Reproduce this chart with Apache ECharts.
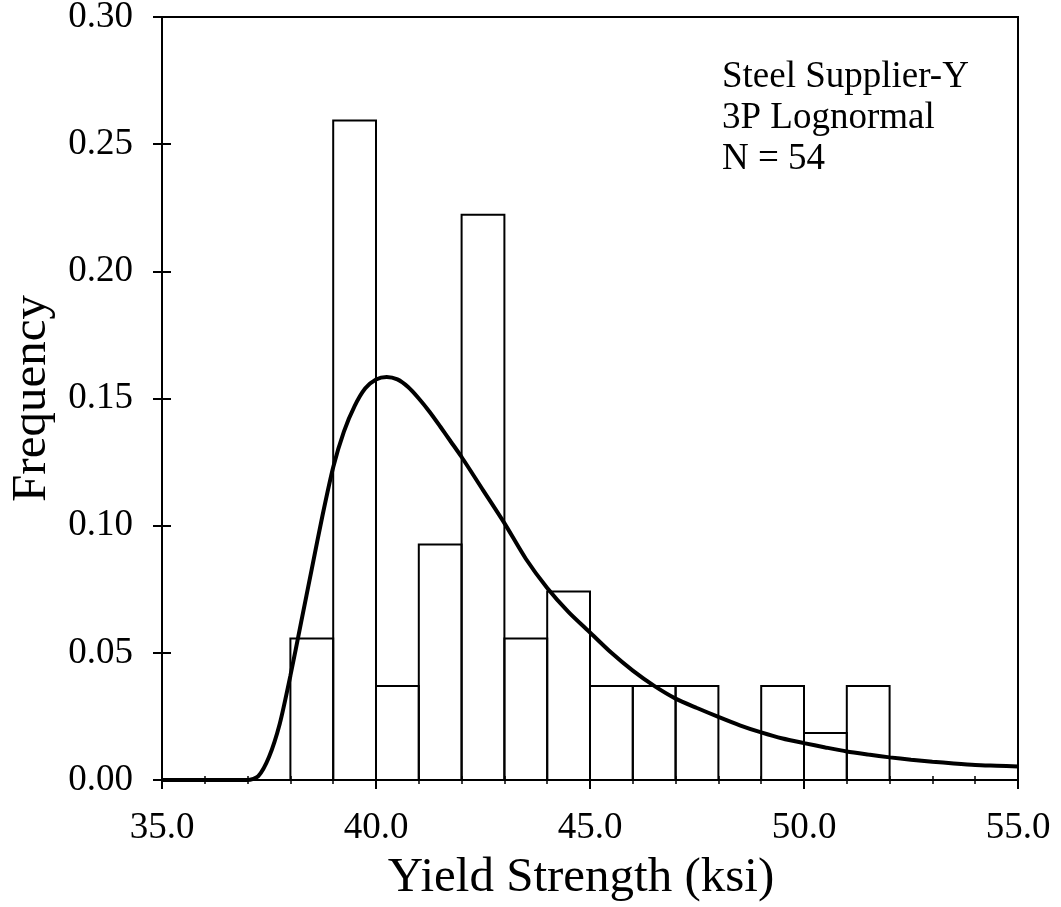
<!DOCTYPE html>
<html>
<head>
<meta charset="utf-8">
<script src="https://cdn.jsdelivr.net/npm/echarts@6/dist/echarts.min.js"></script>
<style>
html,body{margin:0;padding:0;background:#fff;}
#chart{width:1061px;height:907px;}
</style>
</head>
<body>
<div id="chart"></div>
<script>
// Histogram bins (ksi) and relative frequencies (counts / 54)
const binStart = [38, 39, 40, 41, 42, 43, 44, 45, 46, 47, 48, 49, 50, 51];
const binEnd   = [39, 40, 41, 42, 43, 44, 45, 46, 47, 48, 49, 50, 51, 52];
const binFreq  = [0.0556, 0.2593, 0.0370, 0.0926, 0.2222, 0.0556, 0.0741, 0.0370, 0.0370, 0.0370, 0, 0.0370, 0.0185, 0.0370];

// Fitted 3P lognormal curve
const curveX = [35, 36, 37, 37.25, 37.5, 37.75, 38, 38.25, 38.5, 38.75, 39, 39.25, 39.5, 39.75, 40, 40.25, 40.5, 40.75, 41, 41.25, 41.5, 41.75, 42, 42.5, 43, 43.5, 44, 44.5, 45, 45.5, 46, 46.5, 47, 47.5, 48, 48.5, 49, 49.5, 50, 50.5, 51, 51.5, 52, 52.5, 53, 53.5, 54, 54.5, 55];
const curveY = [0, 0, 0, 0.0015, 0.009, 0.022, 0.041, 0.062, 0.083, 0.104, 0.123, 0.137, 0.147, 0.154, 0.1575, 0.1585, 0.1575, 0.1545, 0.150, 0.1448, 0.139, 0.133, 0.127, 0.114, 0.101, 0.087, 0.0755, 0.066, 0.058, 0.050, 0.043, 0.037, 0.032, 0.0283, 0.0248, 0.0215, 0.0187, 0.0163, 0.0145, 0.0128, 0.0112, 0.0100, 0.0089, 0.0080, 0.0072, 0.0065, 0.0059, 0.0056, 0.0053];

const annotationLines = ['Steel Supplier-Y', '3P Lognormal', 'N = 54'];
const xTitle = 'Yield Strength (ksi)';
const yTitle = 'Frequency';

const FONT = 'Liberation Serif';
const chart = echarts.init(document.getElementById('chart'));

const barData = binStart.map((s, i) => [s, binEnd[i], binFreq[i]]);
const lineData = curveX.map((x, i) => [x, curveY[i]]);

const option = {
  animation: false,
  backgroundColor: '#fff',
  grid: {
    left: 162, right: 43, top: 17, bottom: 127,
    containLabel: false, outerBoundsMode: 'none',
    show: true, borderColor: '#000', borderWidth: 2, backgroundColor: 'transparent'
  },
  xAxis: [{
    type: 'value', min: 35, max: 55, interval: 5,
    name: xTitle, nameLocation: 'middle', nameGap: 74,
    nameTextStyle: { fontFamily: FONT, fontSize: 49, color: '#000', padding: [0, 18, 0, 0] },
    axisLine: { show: true, lineStyle: { color: '#000', width: 2 } },
    axisTick: { show: true, length: 9, lineStyle: { color: '#000', width: 2 } },
    minorTick: { show: true, splitNumber: 5, length: 4, lineStyle: { color: '#000', width: 1.5 } },
    axisLabel: { fontFamily: FONT, fontSize: 37, color: '#000', margin: 30, formatter: v => v.toFixed(1) },
    splitLine: { show: false }
  }, {
    type: 'value', min: 35, max: 55, interval: 5, position: 'bottom', gridIndex: 0,
    axisLine: { show: false },
    axisTick: { show: false, inside: true },
    minorTick: { show: true, splitNumber: 5, length: 4, lineStyle: { color: '#000', width: 1.5 } },
    axisLabel: { show: false }, splitLine: { show: false }
  }],
  yAxis: [{
    type: 'value', min: 0, max: 0.3, interval: 0.05,
    name: yTitle, nameLocation: 'middle', nameGap: 105, nameRotate: 90,
    nameTextStyle: { fontFamily: FONT, fontSize: 49, color: '#000' },
    axisLine: { show: true, lineStyle: { color: '#000', width: 2 } },
    axisTick: { show: true, length: 9, lineStyle: { color: '#000', width: 2 } },
    axisLabel: { fontFamily: FONT, fontSize: 37, color: '#000', margin: 29, formatter: v => v.toFixed(2) },
    splitLine: { show: false }
  }, {
    type: 'value', min: 0, max: 0.3, interval: 0.05, position: 'left',
    axisLine: { show: false },
    axisTick: { show: true, inside: true, length: 9, lineStyle: { color: '#000', width: 2 } },
    axisLabel: { show: false }, splitLine: { show: false }
  }],
  graphic: [{
    type: 'text', left: 722, top: 57,
    style: {
      text: annotationLines.join('\n'),
      font: '37px "' + FONT + '"', fill: '#000', lineHeight: 41
    }
  }],
  series: [{
    type: 'custom',
    xAxisIndex: 0, yAxisIndex: 0,
    data: barData,
    renderItem: function (params, api) {
      const p0 = api.coord([api.value(0), 0]);
      const p1 = api.coord([api.value(1), api.value(2)]);
      return {
        type: 'rect',
        shape: { x: p0[0], y: p1[1], width: p1[0] - p0[0], height: p0[1] - p1[1] },
        style: { fill: 'transparent', stroke: '#000', lineWidth: 2 }
      };
    },
    z: 2
  }, {
    type: 'line',
    xAxisIndex: 0, yAxisIndex: 0,
    data: lineData,
    smooth: 0.25,
    showSymbol: false,
    lineStyle: { color: '#000', width: 4 },
    z: 3
  }]
};
chart.setOption(option);
</script>
</body>
</html>
